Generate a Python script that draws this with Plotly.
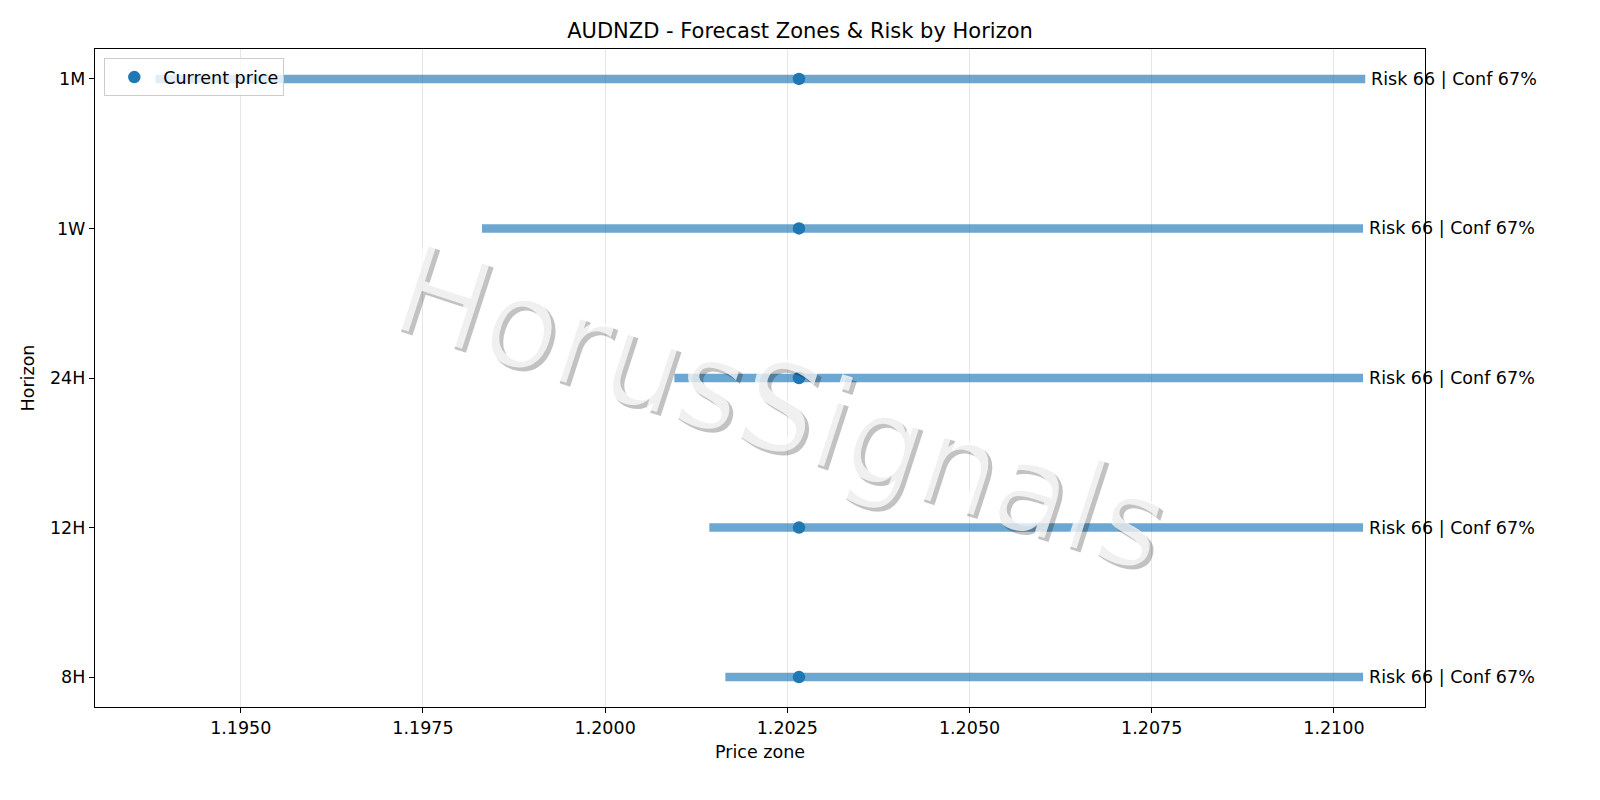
"""
Forecast zones by horizon for AUDNZD, with the current price marked on each zone.
"""

import plotly.graph_objects as go

# Horizons from bottom to top
horizons = ["8H", "12H", "24H", "1W", "1M"]
zone_low = [1.20165, 1.20143, 1.20095, 1.19831, 1.19383]
zone_high = [1.21040, 1.21040, 1.21040, 1.21040, 1.21043]
current_price = 1.20266
risk_scores = [66, 66, 66, 66, 66]
confidence = [67, 67, 67, 67, 67]

x_ticks = [1.1950, 1.1975, 1.2000, 1.2025, 1.2050, 1.2075, 1.2100]

BLUE = "#1f77b4"
FONT = "DejaVu Sans"

fig = go.Figure()

# Zone bars (one segment per horizon)
seg_x, seg_y = [], []
for h, lo, hi in zip(horizons, zone_low, zone_high):
    seg_x += [lo, hi, None]
    seg_y += [h, h, None]

fig.add_trace(go.Scatter(
    x=seg_x,
    y=seg_y,
    mode="lines",
    line=dict(color="rgba(31, 119, 180, 0.65)", width=8.5),
    showlegend=False,
    hoverinfo="skip",
))

fig.add_trace(go.Scatter(
    x=[current_price] * len(horizons),
    y=horizons,
    mode="markers",
    marker=dict(color=BLUE, size=12.5),
    name="Current price",
))

# Risk / confidence labels at the right end of each zone
for h, hi, r, c in zip(horizons, zone_high, risk_scores, confidence):
    fig.add_annotation(
        x=hi, y=h, xref="x", yref="y",
        text=f"Risk {r} | Conf {c}%",
        showarrow=False, xanchor="left", xshift=4,
        font=dict(family=FONT, size=17.5, color="black"),
    )

# Watermark: grey shadow first, then a pale face on top
for color, dx, dy in [("rgba(0, 0, 0, 0.24)", 4, -4), ("rgba(255, 255, 255, 0.75)", 0, 0)]:
    fig.add_annotation(
        x=0.515, y=0.455, xref="paper", yref="paper",
        text="HorusSignals",
        showarrow=False, textangle=18,
        xshift=dx, yshift=dy,
        font=dict(family=FONT, size=123, color=color),
    )

fig.update_layout(
    width=1600,
    height=800,
    template="plotly_white",
    plot_bgcolor="white",
    paper_bgcolor="white",
    font=dict(family=FONT, size=17.5, color="black"),
    title=dict(
        text="AUDNZD - Forecast Zones & Risk by Horizon",
        x=0.5, xanchor="center", y=0.962, yanchor="middle",
        font=dict(family=FONT, size=21, color="black"),
    ),
    margin=dict(l=95, r=175, t=49, b=93),
    legend=dict(
        x=0.007, y=0.986, xanchor="left", yanchor="top",
        bgcolor="rgba(255, 255, 255, 0.8)",
        bordercolor="#cccccc", borderwidth=1,
        itemwidth=48,
        font=dict(family=FONT, size=17.5),
    ),
    showlegend=True,
)

fig.update_xaxes(
    title=dict(text="Price zone", standoff=8, font=dict(family=FONT, size=17.5)),
    range=[1.19300, 1.21125],
    tickvals=x_ticks,
    tickformat=".4f",
    showgrid=True, gridcolor="#e6e6e6", gridwidth=1,
    zeroline=False,
    showline=True, linecolor="black", linewidth=1.3, mirror=True,
    ticks="outside", ticklen=5, tickcolor="black",
)

fig.update_yaxes(
    title=dict(text="Horizon", standoff=10, font=dict(family=FONT, size=17.5)),
    type="category",
    categoryorder="array", categoryarray=horizons,
    range=[-0.2, 4.2],
    showgrid=False,
    zeroline=False,
    showline=True, linecolor="black", linewidth=1.3, mirror=True,
    ticks="outside", ticklen=5, tickcolor="black",
)

# drop the page margin so the 1600x800 figure fills the window exactly
fig.write_html(
    "out.html",
    config={"displayModeBar": False},
    post_script="document.body.style.margin = '0';",
)
